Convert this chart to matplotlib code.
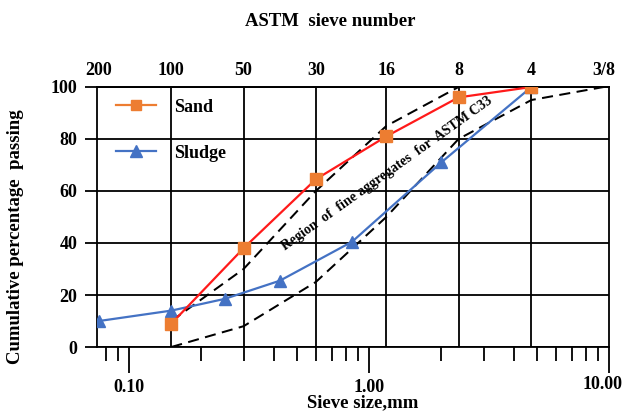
import matplotlib
matplotlib.use("Agg")
import matplotlib.pyplot as plt
from matplotlib.lines import Line2D
from matplotlib.ticker import FixedLocator, NullFormatter
from matplotlib.transforms import ScaledTranslation

plt.rcParams['font.family'] = ['Liberation Serif', 'DejaVu Serif']
plt.rcParams['font.weight'] = 'bold'

# Sieve openings (mm) and their ASTM sieve numbers
sieve_mm = [0.075, 0.15, 0.3, 0.6, 1.18, 2.36, 4.75, 9.5]
sieve_labels = ['200', '100', '50', '30', '16', '8', '4', '3/8']

# Grading curves
sand_mm = [0.15, 0.3, 0.6, 1.18, 2.36, 4.75]
sand_pass = [9, 38, 64.5, 81, 96, 100]

sludge_mm = [0.075, 0.15, 0.25, 0.425, 0.85, 2.0, 4.75]
sludge_pass = [10, 14, 18.5, 25.5, 40.5, 71, 100]

# ASTM C33 fine aggregate envelope
c33_mm = [0.15, 0.3, 0.6, 1.18, 2.36, 4.75, 9.5]
c33_upper = [10, 30, 60, 85, 100, 100, 100]
c33_lower = [0, 8, 25, 50, 80, 95, 100]

bottom_ticks = [0.1, 1.0, 10.0]
bottom_labels = ['0.10', '1.00', '10.00']
y_ticks = [0, 20, 40, 60, 80, 100]

orange = '#ED7D31'
blue = '#4472C4'
red = '#FF1A1A'

fig = plt.figure(figsize=(6.27, 4.12), dpi=100)
ax = fig.add_axes([97 / 627, 1 - 347 / 412, 512 / 627, 260 / 412])
ax.set_xscale('log')
ax.set_xlim(0.0735, 10.0)
ax.set_ylim(0, 100)

# grid: horizontal at y ticks, vertical at the sieve openings
ax.set_yticks(y_ticks)
ax.yaxis.grid(True, color='black', lw=1.3, zorder=0)
for s in sieve_mm[1:-1]:
    ax.axvline(s, color='black', lw=1.3, zorder=0)

# envelope
dash = (0, (5.5, 3.2))
ax.plot(c33_mm, c33_upper, color='black', ls=dash, lw=1.45, zorder=2)
ax.plot(c33_mm, c33_lower, color='black', ls=dash, lw=1.45, zorder=2)

# series
ax.plot(sludge_mm, sludge_pass, color=blue, lw=1.6, marker='^', ms=8.5,
        mfc=blue, mec=blue, zorder=3)
ax.plot(sand_mm, sand_pass, color=red, lw=1.6, zorder=4)
ax.plot(sand_mm, sand_pass, ls='none', marker='s', ms=9, mfc=orange,
        mec=orange, zorder=5)

ax.text(0.567, 0.667, 'Region  of  fine aggregates  for  ASTM C33',
        transform=ax.transAxes, rotation=35.5, rotation_mode='anchor',
        ha='center', va='center', fontsize=10, fontweight='bold', zorder=3)

# bottom axis
ax.xaxis.set_major_locator(FixedLocator(bottom_ticks))
ax.set_xticklabels(bottom_labels)
ax.xaxis.set_minor_locator(FixedLocator(
    [v * m for v in (0.01, 0.1, 1.0) for m in range(2, 10)]))
ax.xaxis.set_minor_formatter(NullFormatter())
ax.tick_params(axis='x', which='major', length=19, width=1.3, pad=4,
               labelsize=13, direction='out')
ax.tick_params(axis='x', which='minor', length=10, width=1.3, direction='out')
ax.tick_params(axis='y', which='major', length=8.5, width=1.3, pad=5.5,
               labelsize=13, direction='out')
for lab in ax.get_xticklabels() + ax.get_yticklabels():
    lab.set_fontweight('bold')
# keep the last label inside the figure
last = ax.get_xticklabels()[-1]
last.set_transform(last.get_transform()
                   + ScaledTranslation(-6 / 100, 3 / 100, fig.dpi_scale_trans))

for sp in ax.spines.values():
    sp.set_linewidth(1.3)

# top axis with sieve numbers
top = ax.secondary_xaxis('top')
top.set_xticks(sieve_mm)
top.set_xticklabels(sieve_labels)
top.tick_params(axis='x', which='both', length=0, pad=6, labelsize=13)
top.xaxis.set_minor_locator(FixedLocator([]))
for lab in top.get_xticklabels():
    lab.set_fontweight('bold')
top.spines['top'].set_linewidth(1.3)

ax.set_xlabel('Sieve size,mm', fontsize=13.5, fontweight='bold')
ax.xaxis.set_label_coords(0.518, -0.215)
ax.xaxis.label.set_va('center')
ax.set_ylabel('Cumulative percentage  passing', fontsize=13.5, fontweight='bold')
ax.yaxis.set_label_coords(-0.16, 0.425)
ax.yaxis.label.set_va('center')

fig.text(330 / 627, 1 - 21 / 412, 'ASTM  sieve number', ha='center',
         va='center', fontsize=13.5, fontweight='bold')

handles = [
    Line2D([], [], color=orange, lw=1.6, marker='s', ms=7, mfc=orange, mec=orange),
    Line2D([], [], color=blue, lw=1.6, marker='^', ms=8.5, mfc=blue, mec=blue),
]
leg = ax.legend(handles, ['Sand', 'Sludge'], loc='upper left',
                bbox_to_anchor=(0.038, 0.955), frameon=False, borderpad=0,
                borderaxespad=0, handlelength=2.2, handletextpad=1.0,
                labelspacing=1.6, prop={'size': 13, 'weight': 'bold'})

fig.savefig('out.png', dpi=100)
